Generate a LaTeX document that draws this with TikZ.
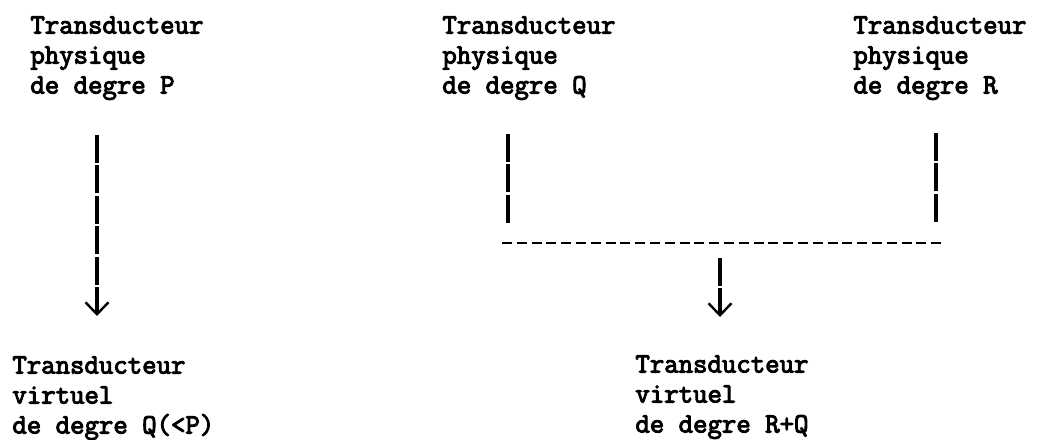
\documentclass[tikz,border=0pt]{standalone}
\usepackage{fontspec}
\newfontfamily\typer{Latin Modern Mono}[FakeBold=3.5]
\usetikzlibrary{arrows,arrows.meta,positioning}

\tikzset{
	txt/.style={anchor=north west, inner sep=0pt, align=left,
		font=\typer\fontsize{14}{15}\selectfont},
	feed/.style={line width=2pt, dash pattern=on 14pt off 1.2pt},
	sumline/.style={line width=1.2pt, dash pattern=on 5pt off 2.4pt},
	downarrow/.style={-{Straight Barb[length=6pt,width=11.5pt,line width=1.2pt]}}
}

\begin{document}
\begin{tikzpicture}[x=0.5pt, y=-0.5pt]
				\useasboundingbox (0,0) rectangle (1037,439);
				% transducteurs physiques
				\node[txt] (physP) at (30,16) {Transducteur\\physique\\de degre P};
				\node[txt] (physQ) at (442,16) {Transducteur\\physique\\de degre Q};
				\node[txt] (physR) at (853,16) {Transducteur\\physique\\de degre R};
				% transducteurs virtuels
				\node[txt] (virtQ) at (12,356) {Transducteur\\virtuel\\de degre Q(<P)};
				\node[txt] (virtRQ) at (635,355) {Transducteur\\virtuel\\de degre R+Q};
				% extremites des traits
				\coordinate (pTop) at (97,135);
				\coordinate (pEnd) at (97,316);
				\coordinate (qTop) at (508,134);
				\coordinate (qEnd) at (508,223);
				\coordinate (rTop) at (936,133);
				\coordinate (rEnd) at (936,222);
				\coordinate (sumL) at (502,243);
				\coordinate (sumR) at (942,243);
				\coordinate (sTop) at (720,258);
				\coordinate (sEnd) at (720,317);
				% traits
				\draw[feed, downarrow] (pTop) -- (pEnd);
				\draw[feed] (qTop) -- (qEnd);
				\draw[feed] (rTop) -- (rEnd);
				\draw[sumline] (sumL) -- (sumR);
				\draw[feed, downarrow] (sTop) -- (sEnd);
			\end{tikzpicture}
\end{document}
